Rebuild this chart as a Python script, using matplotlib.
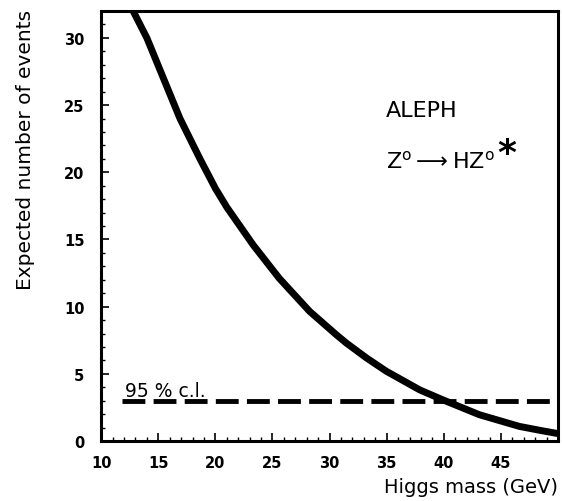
import matplotlib
matplotlib.use("Agg")
import matplotlib.pyplot as plt
from matplotlib.ticker import MultipleLocator

higgs_mass = [12.8, 14.0, 15.45, 16.9, 18.65, 20.0, 21.0, 23.3, 25.6, 28.25,
              30.6, 31.45, 33.2, 34.95, 37.9, 39.9, 43.1, 46.6, 48.5, 50.0]
expected_events = [32.0, 30.0, 27.0, 24.0, 21.0, 18.8, 17.4, 14.6, 12.1, 9.65,
                   7.9, 7.3, 6.2, 5.2, 3.8, 3.07, 1.96, 1.09, 0.78, 0.55]
cl_x = [11.8, 50.0]
cl_level = [3.0, 3.0]

fig = plt.figure(figsize=(5.62, 5.02), dpi=100)
ax = fig.add_axes([0.18, 0.1195, 0.813, 0.8565])

ax.plot(higgs_mass, expected_events, color="black", lw=5, solid_joinstyle="round",
        solid_capstyle="butt")
ax.plot(cl_x, cl_level, color="black", lw=3.5, dashes=(4.7, 1.7))

ax.set_xlim(10, 50)
ax.set_ylim(0, 32)
ax.xaxis.set_minor_locator(MultipleLocator(1))
ax.yaxis.set_major_locator(MultipleLocator(5))
ax.yaxis.set_minor_locator(MultipleLocator(1))
ax.set_xticks([10, 15, 20, 25, 30, 35, 40, 45])
ax.tick_params(which="major", direction="in", length=6, width=1.2, top=False, right=False)
ax.tick_params(which="minor", direction="in", length=3, width=1.0, top=False, right=False)
ax.tick_params(axis="x", pad=10)
ax.tick_params(axis="y", pad=12)
for lbl in ax.get_xticklabels() + ax.get_yticklabels():
    lbl.set_fontsize(10.5)
    lbl.set_fontweight("bold")

for s in ax.spines.values():
    s.set_linewidth(2.2)

ax.set_xlabel("Higgs mass (GeV)", fontsize=14)
ax.xaxis.set_label_coords(1.0, -0.105)
ax.xaxis.label.set_horizontalalignment("right")
ax.xaxis.label.set_verticalalignment("center")
ax.set_ylabel("Expected number of events", fontsize=14.5)
ax.yaxis.set_label_coords(-0.165, 1.005)
ax.yaxis.label.set_verticalalignment("center")
ax.yaxis.label.set_horizontalalignment("right")

ax.text(12.1, 3.35, "95 % c.l.", fontsize=13.5, ha="left", va="baseline")
ax.text(34.9, 24.6, "ALEPH", fontsize=16, ha="left", va="center")
ax.text(34.9, 20.9, r"Z$^{\rm o}$$\longrightarrow$HZ$^{\rm o}$", fontsize=16,
        ha="left", va="center")
ax.text(45.5, 21.4, "*", fontsize=26, ha="center", va="center", fontweight="bold")

fig.savefig("out.png", dpi=100)
